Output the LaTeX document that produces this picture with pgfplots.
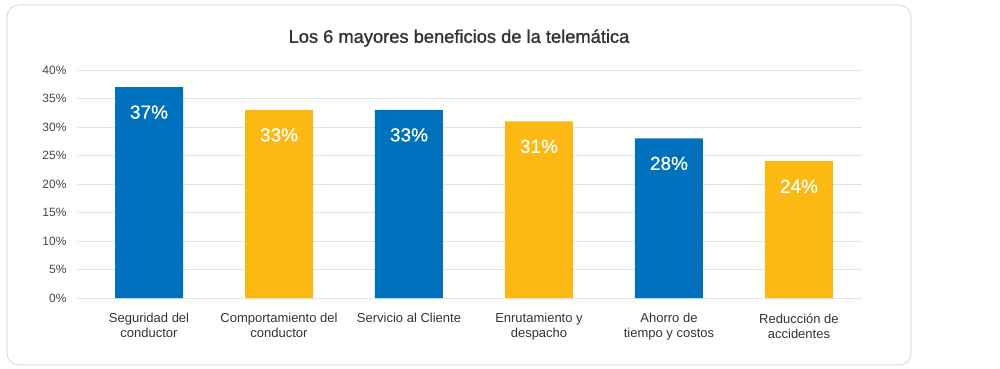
\documentclass[border=0pt]{standalone}
\usepackage{pgfplots}
\pgfplotsset{compat=1.18}
\usepackage{fontspec}
\setmainfont{Liberation Sans}
\newfontfamily\titlefont[FakeBold=1.2]{Liberation Sans}
\newfontfamily\labelfont[FakeBold=0.6]{Liberation Sans}
\definecolor{barblue}{HTML}{0071BC}
\definecolor{baryellow}{HTML}{FDB913}
\definecolor{gridgray}{HTML}{E3E3E3}
\definecolor{boxgray}{HTML}{DDDDDD}
\definecolor{txt}{HTML}{333333}
\begin{document}
\begin{tikzpicture}
\path (0,0) rectangle (1000bp,369bp);
\draw[boxgray, line width=1bp, rounded corners=12bp] (7bp,4bp) rectangle (911bp,364bp);
\node[txt, font=\titlefont\fontsize{18.3bp}{21bp}\selectfont] at (459bp,331bp) {Los 6 mayores beneficios de la telemática};
\begin{axis}[
  at={(77bp,71bp)}, anchor=south west,
  scale only axis, width=785bp, height=228bp,
  xmin=-0.554, xmax=5.485, ymin=0, ymax=40,
  axis line style={draw=none},
  ytick={0,5,...,40},
  yticklabel={\pgfmathprintnumber{\tick}\%},
  /pgf/number format/assume math mode=true,
  yticklabel style={color=txt!90, font=\fontsize{12bp}{14bp}\selectfont, xshift=-7bp},
  ymajorgrids, grid style={gridgray, line width=1bp},
  major tick length=0pt,
  xtick={0,1,2,3,4,5},
  xticklabels={Seguridad del\\conductor, Comportamiento del\\conductor, Servicio al Cliente, Enrutamiento y\\despacho, Ahorro de\\tiempo y costos, Reducción de\\accidentes},
  xticklabel style={align=center, color=txt, font=\fontsize{13bp}{15bp}\selectfont, anchor=north, yshift=-12bp},
  ybar, bar width=68bp, bar shift=0pt,
  nodes near coords={\pgfmathprintnumber{\pgfplotspointmeta}\%},
  every node near coord/.append style={anchor=center, yshift=-25bp, white, font=\labelfont\fontsize{19bp}{22bp}\selectfont},
  clip=false,
]
\addplot[fill=barblue, draw=none] coordinates {(0,37) (2,33) (4,28)};
\addplot[fill=baryellow, draw=none] coordinates {(1,33) (3,31) (5,24)};
\end{axis}
\end{tikzpicture}
\end{document}
